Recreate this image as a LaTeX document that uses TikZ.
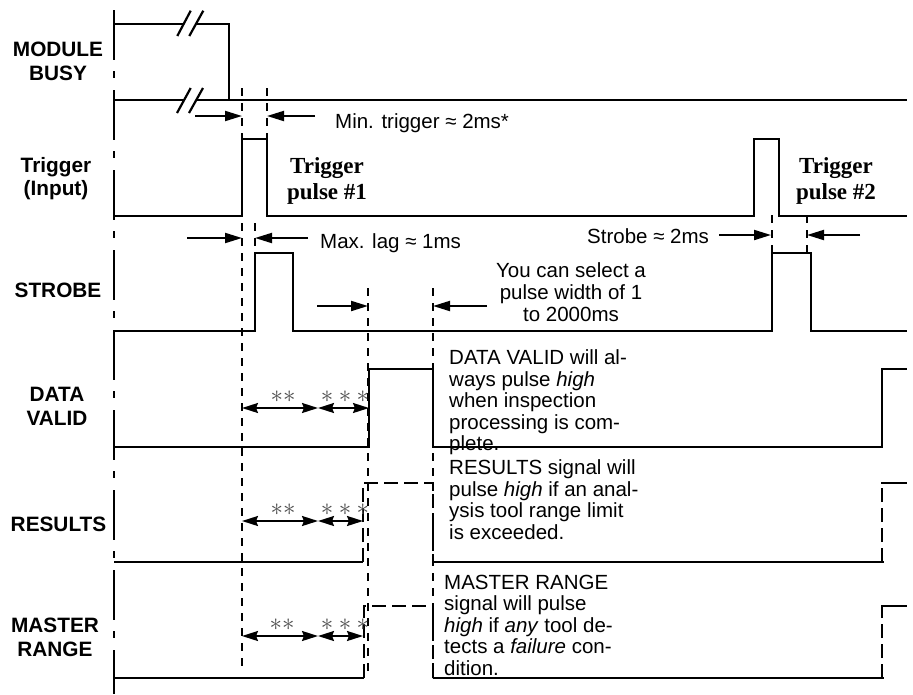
\documentclass[tikz,border=0pt]{standalone}
\usepackage{fontspec}
\setmainfont{Liberation Sans}
\newfontfamily\serifb{Liberation Serif}
\usetikzlibrary{arrows.meta}
\begin{document}
\begin{tikzpicture}[x=1pt,y=-1pt,
  sig/.style={line width=2.3pt, line join=miter},
  edash/.style={line width=2.3pt, line join=miter, dash pattern=on 14pt off 6pt},
  rdash/.style={line width=2pt, dash pattern=on 8pt off 7pt},
  axisline/.style={line width=2.2pt, dash pattern=on 50pt off 11pt on 7pt off 12pt},
  arr/.style={line width=2pt, -{Triangle[length=17pt,width=10pt]}},
  darr/.style={line width=2pt, {Stealth[length=16pt,width=10pt,inset=2pt]}-{Stealth[length=16pt,width=10pt,inset=2pt]}},
  brk/.style={line width=2.2pt},
  lbl/.style={font=\bfseries\fontsize{20.8}{23.5}\selectfont, align=center, anchor=north, inner sep=0pt},
  note/.style={font=\fontsize{20.5}{21.6}\selectfont, inner sep=0pt},
  pulselbl/.style={font=\serifb\bfseries\fontsize{23}{26}\selectfont, align=center, anchor=north, inner sep=0pt},
  stars/.style={font=\fontsize{24.88}{26}\selectfont, text=black!70, inner sep=0pt}
]
\useasboundingbox (0,0) rectangle (913,694);

% left axis
\draw[axisline] (114,10) -- (114,694);

% reference dashed lines
\draw[rdash] (242,88) -- (242,672);
\draw[rdash] (267,88) -- (267,139);
\draw[rdash] (255,223) -- (255,253);
\draw[rdash] (368,288) -- (368,672);
\draw[rdash] (433,288) -- (433,678);
\draw[rdash] (772,215) -- (772,253);
\draw[rdash] (807,215) -- (807,253);

% MODULE BUSY
\draw[sig] (114,24) -- (184,24);
\draw[sig] (196,24) -- (229,24) -- (229,100);
\draw[sig] (114,100) -- (184,100);
\draw[sig] (196,100) -- (907,100);
\draw[brk] (177.3,36) -- (190.7,10.7);
\draw[brk] (189.3,36) -- (203.3,10.7);
\draw[brk] (177,113) -- (190.7,88);
\draw[brk] (189,113) -- (203,88);

% Trigger
\draw[sig] (114,216) -- (242,216) -- (242,139) -- (267,139) -- (267,216) -- (754,216) -- (754,139) -- (779,139) -- (779,216) -- (907,216);

% Strobe
\draw[sig] (114,331) -- (255,331) -- (255,253) -- (293,253) -- (293,331) -- (772,331) -- (772,253) -- (811,253) -- (811,331) -- (907,331);

% Data valid
\draw[sig] (114,447) -- (369,447) -- (369,369) -- (433,369) -- (433,447) -- (882,447) -- (882,369) -- (907,369);

% Results
\draw[sig] (114,562) -- (363,562);
\draw[edash] (363,562) -- (363,483) -- (433,483) -- (433,562);
\draw[sig] (433,562) -- (884,562);
\draw[edash] (882,562) -- (882,483);
\draw[sig] (881,483) -- (907,483);

% Master range
\draw[sig] (114,678) -- (364,678);
\draw[edash] (364,678) -- (364,606) -- (433,606) -- (433,678);
\draw[sig] (433,678) -- (884,678);
\draw[edash] (882,678) -- (882,606);
\draw[sig] (881,606) -- (907,606);

% dimension arrows
\draw[arr] (195,116) -- (242,116);
\draw[arr] (315,116) -- (267,116);
\draw[arr] (187,238) -- (242,238);
\draw[arr] (308,238) -- (255,238);
\draw[arr] (317,306) -- (368,306);
\draw[arr] (487,306) -- (433,306);
\draw[arr] (719,235) -- (771,235);
\draw[arr] (860,235) -- (807,235);

\draw[darr] (242,408) -- (318,408);
\draw[darr] (318,408) -- (369,408);
\draw[darr] (242,521) -- (318,521);
\draw[darr] (318,521) -- (363,521);
\draw[darr] (242,636) -- (318,636);
\draw[darr] (318,636) -- (363,636);

\node[stars] (s1) at (283,397) {$\ast\ast$};
\node[stars] (s2) at (345,397) {$\ast\ast\ast$};
\node[stars] (s3) at (283,510) {$\ast\ast$};
\node[stars] (s4) at (345,510) {$\ast\ast\ast$};
\node[stars] (s5) at (282,625) {$\ast\ast$};
\node[stars] (s6) at (345,625) {$\ast\ast\ast$};

% labels
\node[lbl] (mb) at (58,42) {MODULE\\BUSY};
\node[lbl] (trg) at (56,157) {Trigger\\(Input)};
\node[lbl] (stb) at (58,283) {STROBE};
\node[lbl] (dv) at (57,387) {DATA\\VALID};
\node[lbl] (res) at (58.5,517) {RESULTS};
\node[lbl] (mr) at (55,618) {MASTER\\RANGE};

\node[pulselbl] (tp1) at (327,157) {Trigger\\pulse \#1};
\node[pulselbl] (tp2) at (836,157) {Trigger\\pulse \#2};

% notes
\node[note, anchor=base west] (mintrig) at (335,128) {Min. trigger ≈ 2ms*};
\node[note, anchor=base west] (maxlag) at (320,248) {Max. lag ≈ 1ms};
\node[note, anchor=base west] (strw) at (587,243) {Strobe ≈ 2ms};
\node[note, font=\fontsize{20.5}{22}\selectfont, align=center, anchor=north] (sel) at (571,262) {You can select a\\pulse width of 1\\to 2000ms};
\node[note, align=left, anchor=north west] (dvn) at (449,349.5) {DATA VALID will al-\\ways pulse \textit{high}\\when inspection\\processing is com-\\plete.};
\node[note, align=left, anchor=north west] (resn) at (449,459.5) {RESULTS signal will\\pulse \textit{high} if an anal-\\ysis tool range limit\\is exceeded.};
\node[note, align=left, anchor=north west] (mrn) at (444,574.5) {MASTER RANGE\\signal will pulse\\\textit{high} if \textit{any} tool de-\\tects a \textit{failure} con-\\dition.};
\end{tikzpicture}
\end{document}
